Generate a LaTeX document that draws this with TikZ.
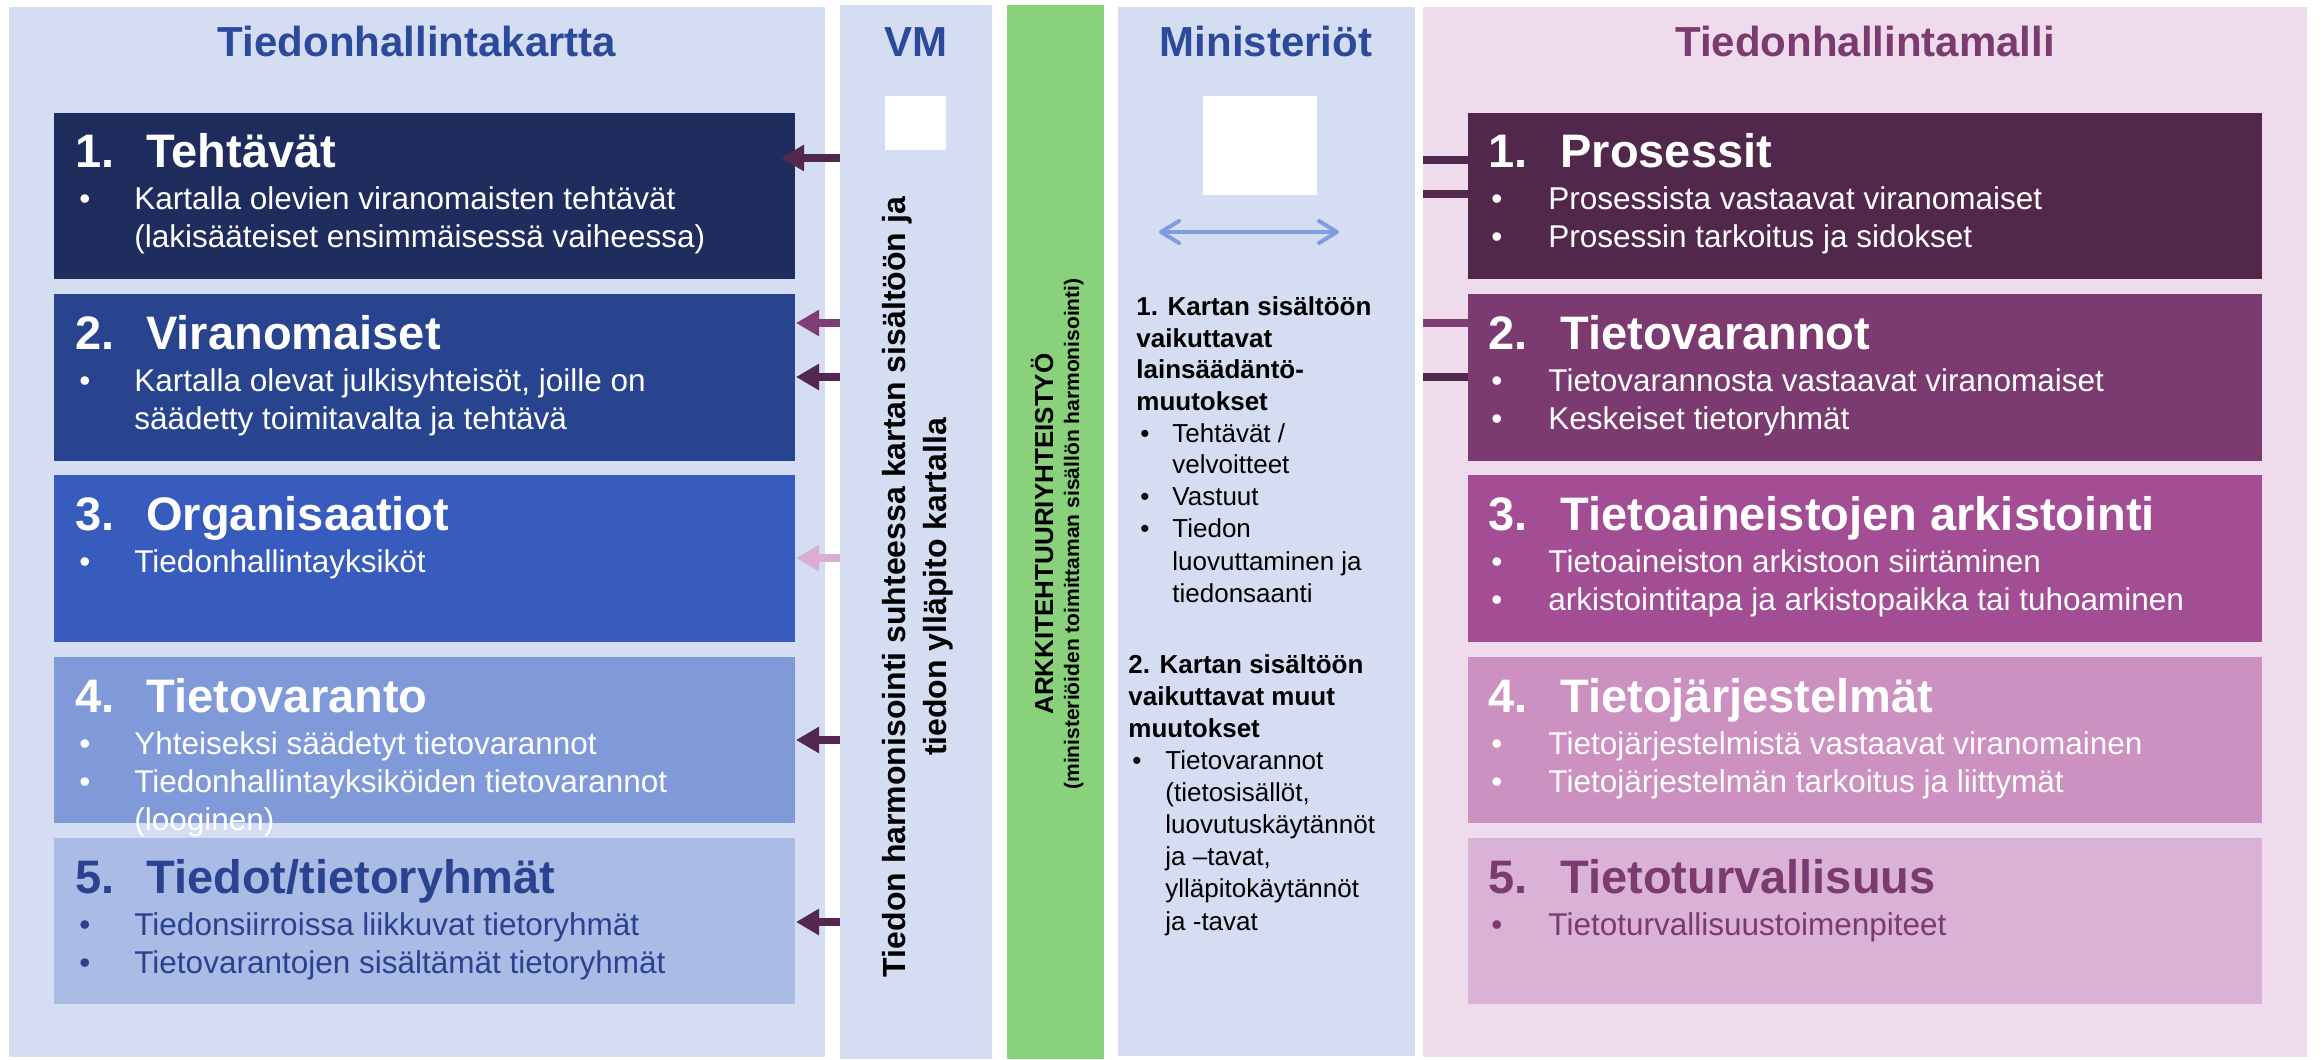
\documentclass[tikz,border=0pt]{standalone}
\usepackage{fontspec}
\setmainfont{Liberation Sans}
\usetikzlibrary{arrows.meta,calc}
\definecolor{bgblue}{HTML}{D5DDF2}
\definecolor{bgpink}{HTML}{EEDCEC}
\definecolor{grn}{HTML}{8AD17B}
\definecolor{Lone}{HTML}{1F2D5E}
\definecolor{Ltwo}{HTML}{29448F}
\definecolor{Lthree}{HTML}{385BBE}
\definecolor{Lfour}{HTML}{809AD9}
\definecolor{Lfive}{HTML}{AABBE6}
\definecolor{Lfivetxt}{HTML}{2B4290}
\definecolor{ttlblue}{HTML}{2B4A9B}
\definecolor{Rone}{HTML}{52274C}
\definecolor{Rtwo}{HTML}{7B3A70}
\definecolor{Rthree}{HTML}{A34D94}
\definecolor{Rfour}{HTML}{CC90C1}
\definecolor{Rfive}{HTML}{DAB2D5}
\definecolor{Rtxt}{HTML}{7B3A70}
\definecolor{arrdark}{HTML}{52284F}
\definecolor{arrmid}{HTML}{7E3D74}
\definecolor{arrpink}{HTML}{D9AED0}
\definecolor{dblarr}{HTML}{809CDD}
\newcommand\mkbox[6]{\node[rect, fill=#6, minimum width={(#4-#2)*0.5pt}, minimum height={(#5-#3)*0.5pt}, anchor=north west] (#1) at (#2,#3) {};}
\begin{document}
\begin{tikzpicture}[x=0.5pt,y=-0.5pt,
  rect/.style={inner sep=0pt, outer sep=0pt, draw=none},
  ttl/.style={anchor=base west, inner sep=0pt, font=\fontsize{23.5pt}{28pt}\selectfont\bfseries},
  btx/.style={anchor=base west, inner sep=0pt, font=\fontsize{15.75pt}{19pt}\selectfont},
  hdr/.style={anchor=base, inner sep=0pt, font=\fontsize{21pt}{25pt}\selectfont\bfseries},
  mtx/.style={anchor=base west, inner sep=0pt, font=\fontsize{13pt}{16pt}\selectfont},
  mhd/.style={anchor=base west, inner sep=0pt, font=\fontsize{13pt}{16pt}\selectfont\bfseries},
  vmt/.style={anchor=base, inner sep=0pt, rotate=90, font=\fontsize{16pt}{19pt}\selectfont\bfseries},
  grone/.style={anchor=base, inner sep=0pt, rotate=90, font=\fontsize{13pt}{16pt}\selectfont\bfseries},
  grtwo/.style={anchor=base, inner sep=0pt, rotate=90, font=\fontsize{10.5pt}{13pt}\selectfont\bfseries},
  arrL/.style={line width=4pt, -{Triangle[length=11.5pt,width=12.5pt]}},
  lnR/.style={line width=3.8pt},
  dbl/.style={line width=2pt, dblarr, line cap=round, {Straight Barb[length=9pt,width=11pt,round]}-{Straight Barb[length=9pt,width=11pt,round]}}
]
\useasboundingbox (0,0) rectangle (2321,1059);
\fill[white] (0,0) rectangle (2321,1059);

% panels
\mkbox{lp}{9}{7}{825}{1057}{bgblue}
\mkbox{vm}{840}{5}{992}{1059}{bgblue}
\mkbox{gr}{1007}{5}{1104}{1059}{grn}
\mkbox{mi}{1118}{7}{1415}{1056}{bgblue}
\mkbox{pk}{1423}{7}{2307}{1057}{bgpink}

% headers
\node[hdr, text=ttlblue] (h1) at (417,57) {Tiedonhallintakartta};
\node[hdr, text=ttlblue] (h2) at (916,57) {VM};
\node[hdr, text=ttlblue] (h3) at (1266,57) {Ministeriöt};
\node[hdr, text=Rtxt] (h4) at (1865,57) {Tiedonhallintamalli};

% white squares
\mkbox{vmsq}{885}{96}{946}{150}{white}
\mkbox{misq}{1203}{96}{1317}{195}{white}

% left boxes
\mkbox{b1}{54}{113}{795}{279}{Lone}
\mkbox{b2}{54}{294}{795}{461}{Ltwo}
\mkbox{b3}{54}{475}{795}{642}{Lthree}
\mkbox{b4}{54}{657}{795}{823}{Lfour}
\mkbox{b5}{54}{838}{795}{1004}{Lfive}

% right boxes
\mkbox{r1}{1468}{113}{2262}{279}{Rone}
\mkbox{r2}{1468}{294}{2262}{461}{Rtwo}
\mkbox{r3}{1468}{475}{2262}{642}{Rthree}
\mkbox{r4}{1468}{657}{2262}{823}{Rfour}
\mkbox{r5}{1468}{838}{2262}{1004}{Rfive}

% left arrows (VM -> kartta)
\draw[arrL, arrdark] ($(vm.west |- b1.north)+(0,45)$) -- ($(b1.north east)+(-14,45)$);
\draw[arrL, arrmid]  ($(vm.west |- b2.north)+(0,29)$) -- ($(b2.north east)+(1,29)$);
\draw[arrL, arrdark] ($(vm.west |- b2.north)+(0,83)$) -- ($(b2.north east)+(1,83)$);
\draw[arrL, arrpink] ($(vm.west |- b3.north)+(0,83)$) -- ($(b3.north east)+(1,83)$);
\draw[arrL, arrdark] ($(vm.west |- b4.north)+(0,83)$) -- ($(b4.north east)+(1,83)$);
\draw[arrL, arrdark] ($(vm.west |- b5.north)+(0,84)$) -- ($(b5.north east)+(1,84)$);

% right lines
\draw[lnR, arrdark] ($(pk.west |- r1.north)+(0,47)$) -- ($(r1.north west)+(0,47)$);
\draw[lnR, arrdark] ($(pk.west |- r1.north)+(0,81)$) -- ($(r1.north west)+(0,81)$);
\draw[lnR, arrmid]  ($(pk.west |- r2.north)+(0,29)$) -- ($(r2.north west)+(0,29)$);
\draw[lnR, arrdark] ($(pk.west |- r2.north)+(0,83)$) -- ($(r2.north west)+(0,83)$);

% left box texts
\begin{scope}[text=white]
\node[ttl] (b1n) at (75,168) {1.};
\node[ttl] (b1w) at (146,168) {Tehtävät};
\node[btx] (b1ab) at (79,210) {•};
\node[btx] (b1at) at (134,210) {Kartalla olevien viranomaisten tehtävät};
\node[btx] (b1bt) at (134,248) {(lakisääteiset ensimmäisessä vaiheessa)};

\node[ttl] (b2n) at (75,349) {2.};
\node[ttl] (b2w) at (146,349) {Viranomaiset};
\node[btx] (b2ab) at (79,391) {•};
\node[btx] (b2at) at (134,391) {Kartalla olevat julkisyhteisöt, joille on};
\node[btx] (b2bt) at (134,429) {säädetty toimitavalta ja tehtävä};

\node[ttl] (b3n) at (75,530) {3.};
\node[ttl] (b3w) at (146,530) {Organisaatiot};
\node[btx] (b3ab) at (79,572) {•};
\node[btx] (b3at) at (134,572) {Tiedonhallintayksiköt};

\node[ttl] (b4n) at (75,712) {4.};
\node[ttl] (b4w) at (146,712) {Tietovaranto};
\node[btx] (b4ab) at (79,754) {•};
\node[btx] (b4at) at (134,754) {Yhteiseksi säädetyt tietovarannot};
\node[btx] (b4bb) at (79,792) {•};
\node[btx] (b4bt) at (134,792) {Tiedonhallintayksiköiden tietovarannot};
\node[btx] (b4ct) at (134,830) {(looginen)};
\end{scope}
\begin{scope}[text=Lfivetxt]
\node[ttl] (b5n) at (75,893) {5.};
\node[ttl] (b5w) at (146,893) {Tiedot/tietoryhmät};
\node[btx] (b5ab) at (79,935) {•};
\node[btx] (b5at) at (134,935) {Tiedonsiirroissa liikkuvat tietoryhmät};
\node[btx] (b5bb) at (79,973) {•};
\node[btx] (b5bt) at (134,973) {Tietovarantojen sisältämät tietoryhmät};
\end{scope}

% right box texts
\begin{scope}[text=white]
\node[ttl] (r1n) at (1488,168) {1.};
\node[ttl] (r1w) at (1560,168) {Prosessit};
\node[btx] (r1ab) at (1491,210) {•};
\node[btx] (r1at) at (1548,210) {Prosessista vastaavat viranomaiset};
\node[btx] (r1bb) at (1491,248) {•};
\node[btx] (r1bt) at (1548,248) {Prosessin tarkoitus ja sidokset};

\node[ttl] (r2n) at (1488,349) {2.};
\node[ttl] (r2w) at (1560,349) {Tietovarannot};
\node[btx] (r2ab) at (1491,391) {•};
\node[btx] (r2at) at (1548,391) {Tietovarannosta vastaavat viranomaiset};
\node[btx] (r2bb) at (1491,429) {•};
\node[btx] (r2bt) at (1548,429) {Keskeiset tietoryhmät};

\node[ttl] (r3n) at (1488,530) {3.};
\node[ttl] (r3w) at (1560,530) {Tietoaineistojen arkistointi};
\node[btx] (r3ab) at (1491,572) {•};
\node[btx] (r3at) at (1548,572) {Tietoaineiston arkistoon siirtäminen};
\node[btx] (r3bb) at (1491,610) {•};
\node[btx] (r3bt) at (1548,610) {arkistointitapa ja arkistopaikka tai tuhoaminen};

\node[ttl] (r4n) at (1488,712) {4.};
\node[ttl] (r4w) at (1560,712) {Tietojärjestelmät};
\node[btx] (r4ab) at (1491,754) {•};
\node[btx] (r4at) at (1548,754) {Tietojärjestelmistä vastaavat viranomainen};
\node[btx] (r4bb) at (1491,792) {•};
\node[btx] (r4bt) at (1548,792) {Tietojärjestelmän tarkoitus ja liittymät};
\end{scope}
\begin{scope}[text=Rtxt]
\node[ttl] (r5n) at (1488,893) {5.};
\node[ttl] (r5w) at (1560,893) {Tietoturvallisuus};
\node[btx] (r5ab) at (1491,935) {•};
\node[btx] (r5at) at (1548,935) {Tietoturvallisuustoimenpiteet};
\end{scope}

% VM rotated text
\node[vmt] (vmA) at (905,587) {Tiedon harmonisointi suhteessa kartan sisältöön ja};
\node[vmt] (vmB) at (946,587) {tiedon ylläpito kartalla};

% green rotated text
\node[grone] (grA) at (1053,534) {ARKKITEHTUURIYHTEISTYÖ};
\node[grtwo] (grB) at (1079,534) {(ministeriöiden toimittaman sisällön harmonisointi)};

% Ministeriot double arrow
\coordinate (daL) at (1159,232);
\coordinate (daR) at (1339,232);
\draw[dbl] (daL) -- (daR);

% Ministeriot texts
\node[mhd] (m1) at (1136,315) {1. Kartan sisältöön};
\node[mhd] (m2) at (1136,347) {vaikuttavat};
\node[mhd] (m3) at (1136,378) {lainsäädäntö-};
\node[mhd] (m4) at (1136,410) {muutokset};
\node[mtx] (m5b) at (1140,442) {•};
\node[mtx] (m5) at (1172,442) {Tehtävät /};
\node[mtx] (m6) at (1172,473) {velvoitteet};
\node[mtx] (m7b) at (1140,505) {•};
\node[mtx] (m7) at (1172,505) {Vastuut};
\node[mtx] (m8b) at (1140,537) {•};
\node[mtx] (m8) at (1172,537) {Tiedon};
\node[mtx] (m9) at (1172,570) {luovuttaminen ja};
\node[mtx] (m10) at (1172,602) {tiedonsaanti};

\node[mhd] (n1) at (1128,673) {2. Kartan sisältöön};
\node[mhd] (n2) at (1128,705) {vaikuttavat muut};
\node[mhd] (n3) at (1128,737) {muutokset};
\node[mtx] (n4b) at (1132,769) {•};
\node[mtx] (n4) at (1165,769) {Tietovarannot};
\node[mtx] (n5) at (1165,801) {(tietosisällöt,};
\node[mtx] (n6) at (1165,833) {luovutuskäytännöt};
\node[mtx] (n7) at (1165,865) {ja –tavat,};
\node[mtx] (n8) at (1165,897) {ylläpitokäytännöt};
\node[mtx] (n9) at (1165,930) {ja -tavat};
\end{tikzpicture}
\end{document}
